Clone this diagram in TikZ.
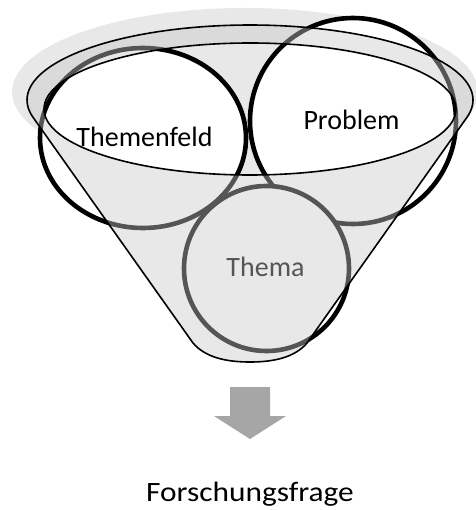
\documentclass[tikz,border=0pt]{standalone}
\usepackage{fontspec}
\setmainfont{Carlito}
\definecolor{bgray}{RGB}{232,232,232}
\definecolor{veil}{RGB}{201,201,201}
\definecolor{arrowgray}{RGB}{166,166,166}
\begin{document}
\begin{tikzpicture}[x=1pt,y=-1pt,
  ring/.style={line width=4.6pt, fill=white, draw=black},
  outline/.style={line width=1.6pt, draw=black},
  lbl/.style={anchor=base, inner sep=0pt, font=\fontsize{28}{33}\selectfont},
]
\useasboundingbox (0,0) rectangle (475,510);
% background glow
\fill[bgray] (245,92) ellipse [x radius=233, y radius=84];
% circles
\draw[ring] (143,138) ellipse [x radius=103, y radius=90];
\draw[ring] (353,121) circle [radius=103];
\draw[ring] (266.5,268.5) circle [radius=82.5];
\node[lbl] (tf) at (144.5,146.7) {Themenfeld};
\node[lbl] (pr) at (351.5,129.3) {Problem};
\node[lbl] (th) at (265.5,276.7) {Thema};
% translucent funnel body with the opening left free
\fill[veil, fill opacity=0.4235, even odd rule]
  (193,343) -- plot[domain=166.6:373.4, samples=90] ({250+223*cos(\x)},{100+75*sin(\x)})
  -- (307,343) .. controls (295,357) and (275,362) .. (250,362)
  .. controls (225,362) and (205,357) .. (193,343) -- cycle
  (250,109) ellipse [x radius=206, y radius=66];
% funnel outlines
\draw[outline, line join=round]
  (193,343) -- plot[domain=166.6:373.4, samples=90] ({250+223*cos(\x)},{100+75*sin(\x)})
  -- (307,343) .. controls (295,357) and (275,362) .. (250,362)
  .. controls (225,362) and (205,357) .. (193,343) -- cycle;
\draw[outline] (250,109) ellipse [x radius=206, y radius=66];
% arrow
\fill[arrowgray] (230,387) -- (270,387) -- (270,416) -- (286,416) -- (250,439)
  -- (214,416) -- (230,416) -- cycle;
\node[lbl] (ff) at (250,501.7) {\scalebox{1.12}[1]{Forschungsfrage}};
\end{tikzpicture}
\end{document}
